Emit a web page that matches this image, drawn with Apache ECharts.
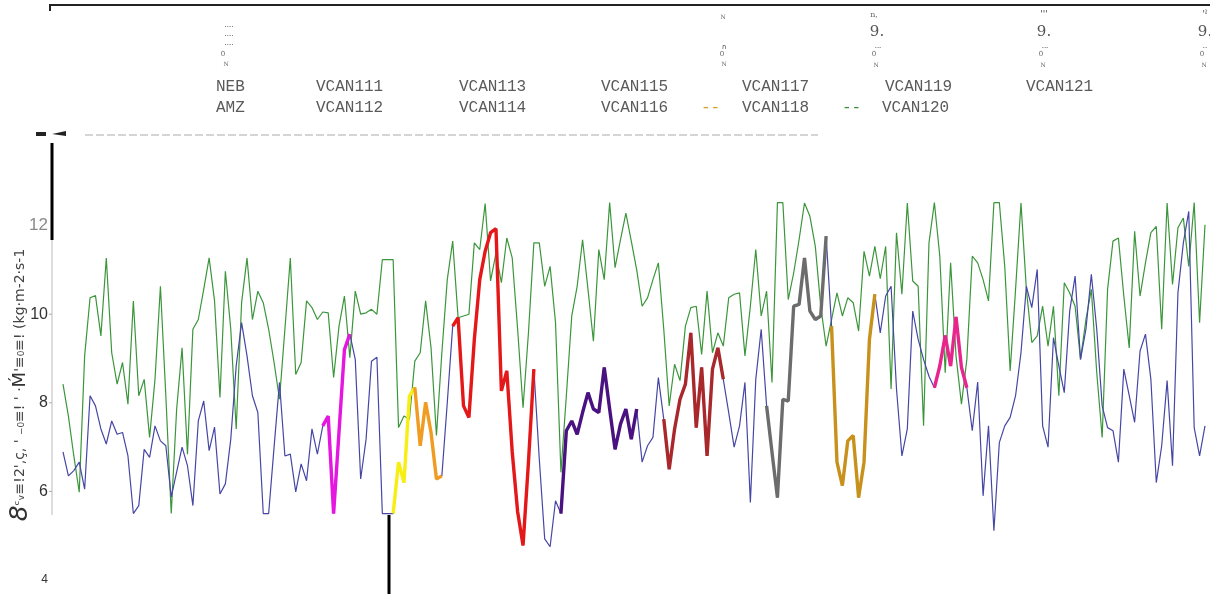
<!DOCTYPE html>
<html><head><meta charset="utf-8">
<script src="https://cdn.jsdelivr.net/npm/echarts@6/dist/echarts.min.js"></script>
<style>html,body{margin:0;padding:0;background:#fff}#c{width:1210px;height:594px}</style>
</head><body><div id="c"></div>
<script>
const yTicks = [4, 6, 8, 10, 12, 14];
const tickMarks = [6, 8, 10];
const legendRow1 = ['NEB', 'VCAN111', 'VCAN113', 'VCAN115', 'VCAN117', 'VCAN119', 'VCAN121'];
const legendRow2 = ['AMZ', 'VCAN112', 'VCAN114', 'VCAN116', 'VCAN118', 'VCAN120'];
const greenValues = [8.42,7.7,6.8,5.98,9.06,10.37,10.42,9.51,11.27,9.13,8.42,8.91,7.97,10.3,8.16,8.53,7.22,8.53,10.63,8.16,5.5,7.86,9.24,6.84,9.66,9.88,10.56,11.27,10.3,8.12,10.97,9.66,7.41,10.26,11.27,9.88,10.52,10.26,9.66,8.91,8.08,9.66,11.27,8.64,8.91,10.3,10.15,9.88,10.05,10.03,8.57,9.73,10.41,9.02,10.52,10.0,10.03,10.11,10.0,11.23,11.23,11.23,7.44,7.7,7.63,8.94,9.13,10.3,9.24,7.26,9.13,10.78,11.65,9.92,9.96,10.0,11.61,11.46,12.5,10.75,11.38,10.71,11.72,11.27,9.66,7.89,9.58,11.61,11.61,10.63,11.08,9.81,6.43,8.16,9.96,10.63,11.68,10.56,9.39,11.46,10.78,12.52,11.05,11.68,12.28,11.65,11.0,10.18,10.37,10.78,11.16,9.66,7.93,8.87,8.5,9.73,10.15,10.18,9.09,10.52,9.13,9.58,9.28,10.37,10.45,10.48,9.06,10.18,11.46,9.96,10.52,8.46,12.52,12.52,10.33,10.93,11.68,12.51,12.21,11.53,10.18,9.28,9.88,10.48,9.96,10.37,10.26,9.62,11.42,10.86,11.53,10.8,11.53,8.31,11.84,10.45,12.51,10.75,10.63,7.48,11.61,12.52,11.31,8.68,11.16,9.06,7.97,8.98,11.31,11.16,10.78,10.3,12.52,12.52,11.08,8.72,10.56,12.51,10.56,9.36,9.51,10.18,9.28,10.18,8.16,10.71,10.48,10.18,8.98,9.88,10.56,8.68,7.22,10.56,11.65,11.72,10.41,9.24,11.87,10.41,11.16,11.84,11.98,9.66,12.51,10.67,11.95,12.17,11.08,12.52,9.81,12.02];
const blueValues = [6.89,6.35,6.47,6.66,6.05,8.16,7.93,7.41,7.07,7.59,7.29,7.33,6.8,5.5,5.68,6.95,6.77,7.48,7.14,7.03,5.87,6.44,7.0,6.58,5.68,7.59,8.04,6.92,7.45,5.94,6.17,7.18,8.83,9.81,9.06,8.16,7.78,5.5,5.5,7.0,8.46,6.8,6.84,5.99,6.62,6.24,7.41,6.84,7.48,7.7,5.5,7.35,9.2,9.55,8.98,6.28,7.18,8.94,9.03,5.5,5.5,5.5,6.66,6.2,8.15,8.35,7.03,8.01,7.33,6.28,6.35,8.0,9.73,9.92,7.93,7.67,9.43,10.78,11.42,11.84,11.93,8.27,8.72,6.89,5.54,4.78,6.66,8.76,6.73,4.93,4.75,5.79,5.5,7.37,7.59,7.29,7.78,8.23,7.86,7.78,8.8,7.86,6.95,7.52,7.86,7.18,7.86,6.66,7.03,7.22,8.57,7.63,6.5,7.41,8.08,8.42,9.58,7.44,8.8,6.8,8.76,9.24,8.53,7.78,7.0,7.48,8.46,5.75,8.53,9.66,7.93,6.88,5.86,8.08,8.04,10.18,10.22,11.27,10.07,9.88,9.96,11.76,9.73,6.66,6.13,7.14,7.26,5.86,6.66,9.43,10.45,9.58,10.41,10.63,8.31,6.8,7.41,10.07,9.43,8.98,8.6,8.34,8.83,9.52,8.83,9.94,8.8,8.34,7.37,8.47,5.9,7.48,5.11,7.1,7.48,7.67,8.16,9.13,10.63,10.15,11.01,7.48,7.0,9.47,8.83,8.23,10.07,10.86,8.98,9.66,10.9,9.66,7.93,7.44,7.37,6.66,8.76,8.16,7.56,9.17,9.55,8.53,6.2,7.03,8.5,6.58,10.48,11.61,12.32,7.44,6.8,7.48];
// highlighted stretches of the blue series: [first index, last index]
const segMagenta = [48, 53];
const segYellow = [61, 65];
const segOrange = [65, 70];
const segRed = [72, 87];
const segPurple = [92, 106];
const segBrown = [111, 122];
const segGray = [130, 141];
const segGold = [142, 150];
const segPink = [161, 167];

const segs = [
  ['VCAN111', segMagenta, '#e516e0'],
  ['VCAN112', segYellow, '#f7ee12'],
  ['VCAN113', segOrange, '#f09c22'],
  ['VCAN114', segRed, '#e41818'],
  ['VCAN115', segPurple, '#4a1180'],
  ['VCAN116', segBrown, '#a8282c'],
  ['VCAN117', segGray, '#6c6c6c'],
  ['VCAN118', segGold, '#c8911c'],
  ['VCAN119', segPink, '#e8258c']
];
const cats = blueValues.map((_, i) => i);

const series = [
  {name:'NEB', type:'line', data:greenValues, symbol:'none', lineStyle:{color:'#3b963b', width:1.2}, z:2, animation:false},
  {name:'AMZ', type:'line', data:blueValues, symbol:'none', lineStyle:{color:'#4646a6', width:1.2}, z:3, animation:false}
];
segs.forEach(([n, r, col]) => {
  const d = blueValues.map((v, i) => (i >= r[0] && i <= r[1]) ? v : null);
  series.push({name:n, type:'line', data:d, symbol:'none', connectNulls:false,
    lineStyle:{color:col, width:3.4}, z:5, animation:false});
});

const mono = "'Liberation Mono', 'DejaVu Sans Mono', monospace";
const legendX = [216, 316, 459, 601, 742, 885, 1026];
const graphics = [];
legendRow1.forEach((t, k) => graphics.push({type:'text', x:legendX[k], y:87, style:{text:t, font:'16px ' + mono, fill:'#5a5a5a', verticalAlign:'middle'}}));
const row2X = [216, 316, 459, 601, 742, 882];
legendRow2.forEach((t, k) => graphics.push({type:'text', x:row2X[k], y:108, style:{text:t, font:'16px ' + mono, fill:'#5a5a5a', verticalAlign:'middle'}}));
graphics.push({type:'text', x:701, y:108, style:{text:'--', font:'16px ' + mono, fill:'#d4a024', verticalAlign:'middle'}});
graphics.push({type:'text', x:842, y:108, style:{text:'--', font:'16px ' + mono, fill:'#3b8f3b', verticalAlign:'middle'}});
// top border and odd marks
graphics.push({type:'line', shape:{x1:50, y1:5, x2:1210, y2:5}, style:{stroke:'#222', lineWidth:2}});
graphics.push({type:'line', shape:{x1:50, y1:4, x2:50, y2:11}, style:{stroke:'#222', lineWidth:2}});
graphics.push({type:'line', shape:{x1:85, y1:135, x2:818, y2:135}, style:{stroke:'#aaa', lineWidth:1, lineDash:[8,3]}});
graphics.push({type:'line', shape:{x1:52, y1:143, x2:52, y2:240}, style:{stroke:'#000', lineWidth:3}});
graphics.push({type:'line', shape:{x1:52, y1:240, x2:52, y2:515}, style:{stroke:'#bbb', lineWidth:1}});
graphics.push({type:'line', shape:{x1:389, y1:515, x2:389, y2:594}, style:{stroke:'#000', lineWidth:3}});
graphics.push({type:'rect', shape:{x:36, y:132, width:10, height:4}, style:{fill:'#222'}});
graphics.push({type:'polygon', shape:{points:[[52,134],[66,131],[66,136]]}, style:{fill:'#222'}});
// garbled little glyph stacks near top
const tiny = (x, y, t, s, c) => graphics.push({type:'text', x:x, y:y, style:{text:t, font:s + 'px ' + "'DejaVu Serif', serif", fill:c || '#666', align:'center', verticalAlign:'middle'}});
tiny(229, 27, '····', 7, '#333'); tiny(229, 36, '····', 7, '#333'); tiny(229, 45, '····', 7, '#333');
tiny(223, 54, '0', 7); tiny(226, 64, 'N', 6);
tiny(723, 17, 'N', 6); tiny(724, 47, 'ก', 7, '#333'); tiny(722, 54, '0', 7); tiny(724, 64, 'N', 6);
tiny(874, 15, 'n,', 8); tiny(877, 32, '9.', 15, '#555'); tiny(878, 48, '···', 7, '#333'); tiny(874, 54, '0', 7); tiny(876, 65, 'N', 6);
tiny(1044, 15, "'''", 9, '#333'); tiny(1044, 32, '9.', 15, '#555'); tiny(1045, 48, '···', 7, '#333'); tiny(1041, 54, '0', 7); tiny(1043, 65, 'N', 6);
tiny(1205, 15, "'ˀ", 9, '#333'); tiny(1205, 32, '9.', 15, '#555'); tiny(1205, 48, '··', 7, '#333'); tiny(1202, 54, '0', 7); tiny(1204, 65, 'N', 6);
// y axis title (garbled)
graphics.push({type:'text', x:20, y:385, rotation:Math.PI/2, style:{
  text:"{big|8}{s|ᶜᵥ≡!2',ç, ' ₋₀≡! ' ·}{m|Ḿ}{s|'≡₀≡! (kg·m-2·s-1}",
  rich:{big:{font:"italic 25px 'DejaVu Sans', sans-serif", fill:'#333'},
        s:{font:"14px 'DejaVu Sans', sans-serif", fill:'#444'},
        m:{font:"18px 'DejaVu Sans', sans-serif", fill:'#333'}},
  align:'center', verticalAlign:'middle'}});

const chart = echarts.init(document.getElementById('c'), null, {renderer:'canvas'});
chart.setOption({
  backgroundColor:'#fff',
  animation:false,
  grid:{left:63, right:5, top:137, bottom:14},
  xAxis:{type:'category', data:cats, boundaryGap:false, show:false},
  yAxis:{type:'value', min:yTicks[0], max:yTicks[yTicks.length-1], interval:2,
    axisLine:{show:false}, axisTick:{show:false}, splitLine:{show:false},
    axisLabel:{margin:15, formatter: v => v === 14 ? '{b|' + v + '}' : v === 12 ? '{g|' + v + '}' : v === 4 ? '{s|' + v + '}' : '{d|' + v + '}',
      rich:{b:{color:'transparent', fontSize:14}, g:{color:'#8a8a8a', fontSize:17, fontFamily:'Liberation Sans'}, d:{color:'#333', fontSize:16, fontFamily:'Liberation Sans'}, s:{color:'#333', fontSize:12, fontFamily:'Liberation Sans'}}}},
  series:series,
  graphic:graphics
});
// small tick marks on the drawn axis line, placed through the value axis
const extra = tickMarks.map(v => {
  const py = chart.convertToPixel({yAxisIndex:0}, v);
  return {type:'line', shape:{x1:49, y1:py, x2:52, y2:py}, style:{stroke:'#aaa', lineWidth:1}};
});
chart.setOption({graphic: graphics.concat(extra)});
</script></body></html>
